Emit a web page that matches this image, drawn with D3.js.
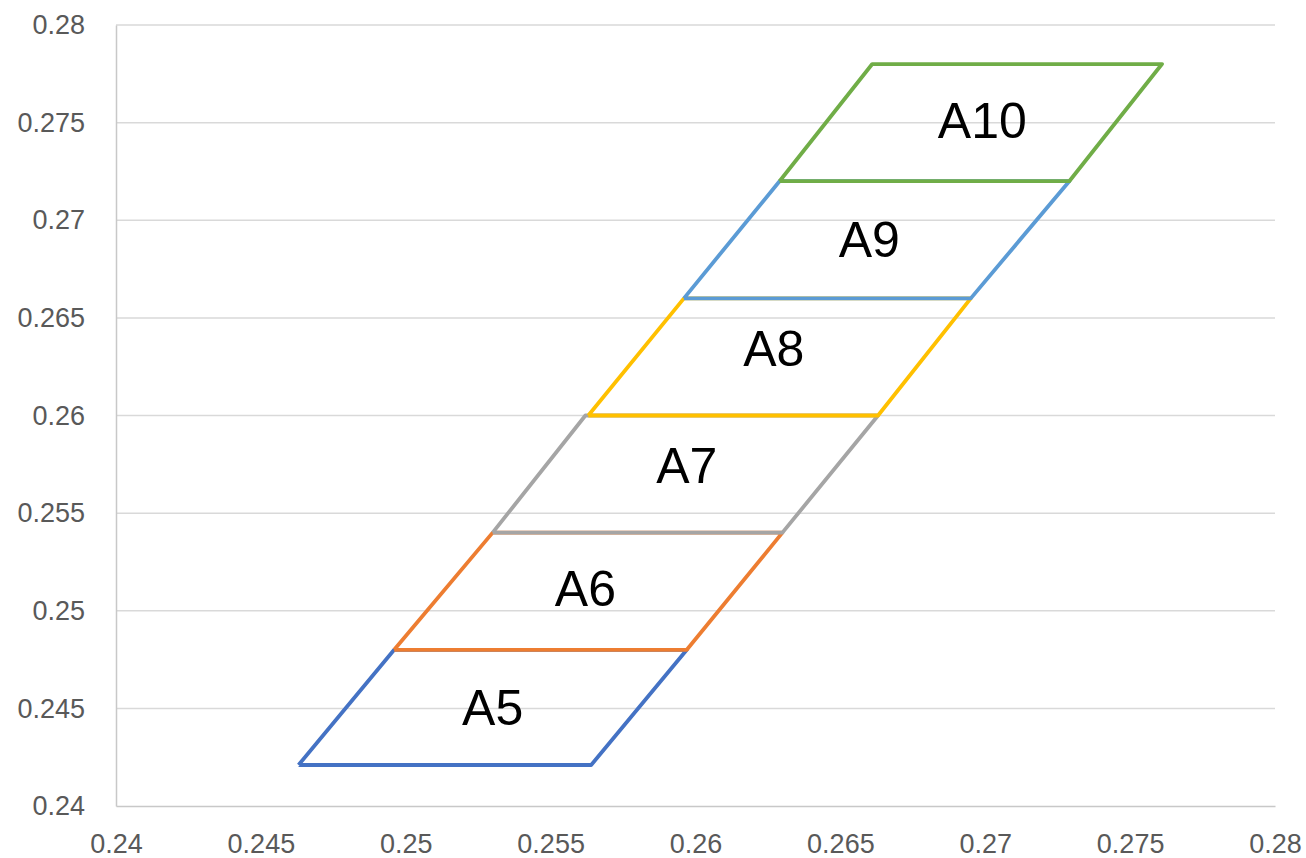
<!DOCTYPE html>
<html>
<head>
<meta charset="utf-8">
<script src="https://cdn.jsdelivr.net/npm/d3@7"></script>
<style>
  html, body { margin: 0; padding: 0; background: #fff; }
  svg { display: block; }
</style>
</head>
<body>
<svg id="chart" width="1306" height="858"></svg>
<script>
// ---- Data ----
const seriesNames = ["A5", "A6", "A7", "A8", "A9", "A10"];
// each parallelogram: bottom-left, bottom-right, top-right, top-left, back to bottom-left
const A5x  = [0.2463, 0.2564, 0.2597, 0.2496, 0.2463];
const A5y  = [0.2421, 0.2421, 0.2480, 0.2480, 0.2421];
const A6x  = [0.2496, 0.2597, 0.2630, 0.2530, 0.2496];
const A6y  = [0.2480, 0.2480, 0.2540, 0.2540, 0.2480];
const A7x  = [0.2530, 0.2630, 0.2663, 0.2562, 0.2530];
const A7y  = [0.2540, 0.2540, 0.2600, 0.2600, 0.2540];
const A8x  = [0.2563, 0.2663, 0.2695, 0.2596, 0.2563];
const A8y  = [0.2600, 0.2600, 0.2660, 0.2660, 0.2600];
const A9x  = [0.2596, 0.2695, 0.2729, 0.2629, 0.2596];
const A9y  = [0.2660, 0.2660, 0.2720, 0.2720, 0.2660];
const A10x = [0.2629, 0.2729, 0.2761, 0.2661, 0.2629];
const A10y = [0.2720, 0.2720, 0.2780, 0.2780, 0.2720];
// data-label positions (centre of text)
const labelX = [0.2530, 0.2562, 0.2597, 0.2627, 0.2660, 0.2699];
const labelY = [0.2450, 0.2511, 0.2574, 0.2634, 0.2690, 0.2751];
const xTicks = [0.24, 0.245, 0.25, 0.255, 0.26, 0.265, 0.27, 0.275, 0.28];
const yTicks = [0.24, 0.245, 0.25, 0.255, 0.26, 0.265, 0.27, 0.275, 0.28];
const colors = ["#4472C4", "#ED7D31", "#A5A5A5", "#FFC000", "#5B9BD5", "#70AD47"];

const seriesX = [A5x, A6x, A7x, A8x, A9x, A10x];
const seriesY = [A5y, A6y, A7y, A8y, A9y, A10y];

// ---- Layout ----
const svg = d3.select("#chart");
const mLeft = 116, mRight = 1275, mTop = 25, mBottom = 806;
const x = d3.scaleLinear().domain([0.24, 0.28]).range([mLeft, mRight]);
const y = d3.scaleLinear().domain([0.24, 0.28]).range([mBottom, mTop]);

const fmt = d => String(+d.toFixed(3));

// horizontal gridlines
svg.append("g")
  .selectAll("line").data(yTicks.filter(t => t > 0.24)).join("line")
  .attr("x1", mLeft).attr("x2", mRight)
  .attr("y1", d => y(d)).attr("y2", d => y(d))
  .attr("stroke", "#d9d9d9").attr("stroke-width", 1.5);

// axes
const xAxis = svg.append("g").attr("transform", `translate(0,${mBottom})`)
  .call(d3.axisBottom(x).tickValues(xTicks).tickFormat(fmt).tickSize(0).tickPadding(28));
const yAxis = svg.append("g").attr("transform", `translate(${mLeft},0)`)
  .call(d3.axisLeft(y).tickValues(yTicks).tickFormat(fmt).tickSize(0).tickPadding(31));
[xAxis, yAxis].forEach(g => {
  g.select(".domain").attr("stroke", "#c8c8c8").attr("stroke-width", 1.5);
  g.selectAll("text")
    .attr("font-family", "'Liberation Sans', Arial, sans-serif")
    .attr("font-size", 27)
    .attr("fill", "#595959");
});

// series
const line = d3.line().x(d => x(d[0])).y(d => y(d[1]));
seriesNames.forEach((name, i) => {
  const pts = seriesX[i].map((v, k) => [v, seriesY[i][k]]);
  svg.append("path")
    .datum(pts)
    .attr("d", line)
    .attr("fill", "none")
    .attr("stroke", colors[i])
    .attr("stroke-width", 3.8)
    .attr("stroke-linejoin", "round");
});

// labels
svg.append("g")
  .selectAll("text").data(seriesNames).join("text")
  .attr("x", (d, i) => x(labelX[i]))
  .attr("y", (d, i) => y(labelY[i]))
  .attr("text-anchor", "middle")
  .attr("dominant-baseline", "central")
  .attr("font-family", "'Liberation Sans', Arial, sans-serif")
  .attr("font-size", 50)
  .attr("fill", "#000")
  .text(d => d);
</script>
</body>
</html>
